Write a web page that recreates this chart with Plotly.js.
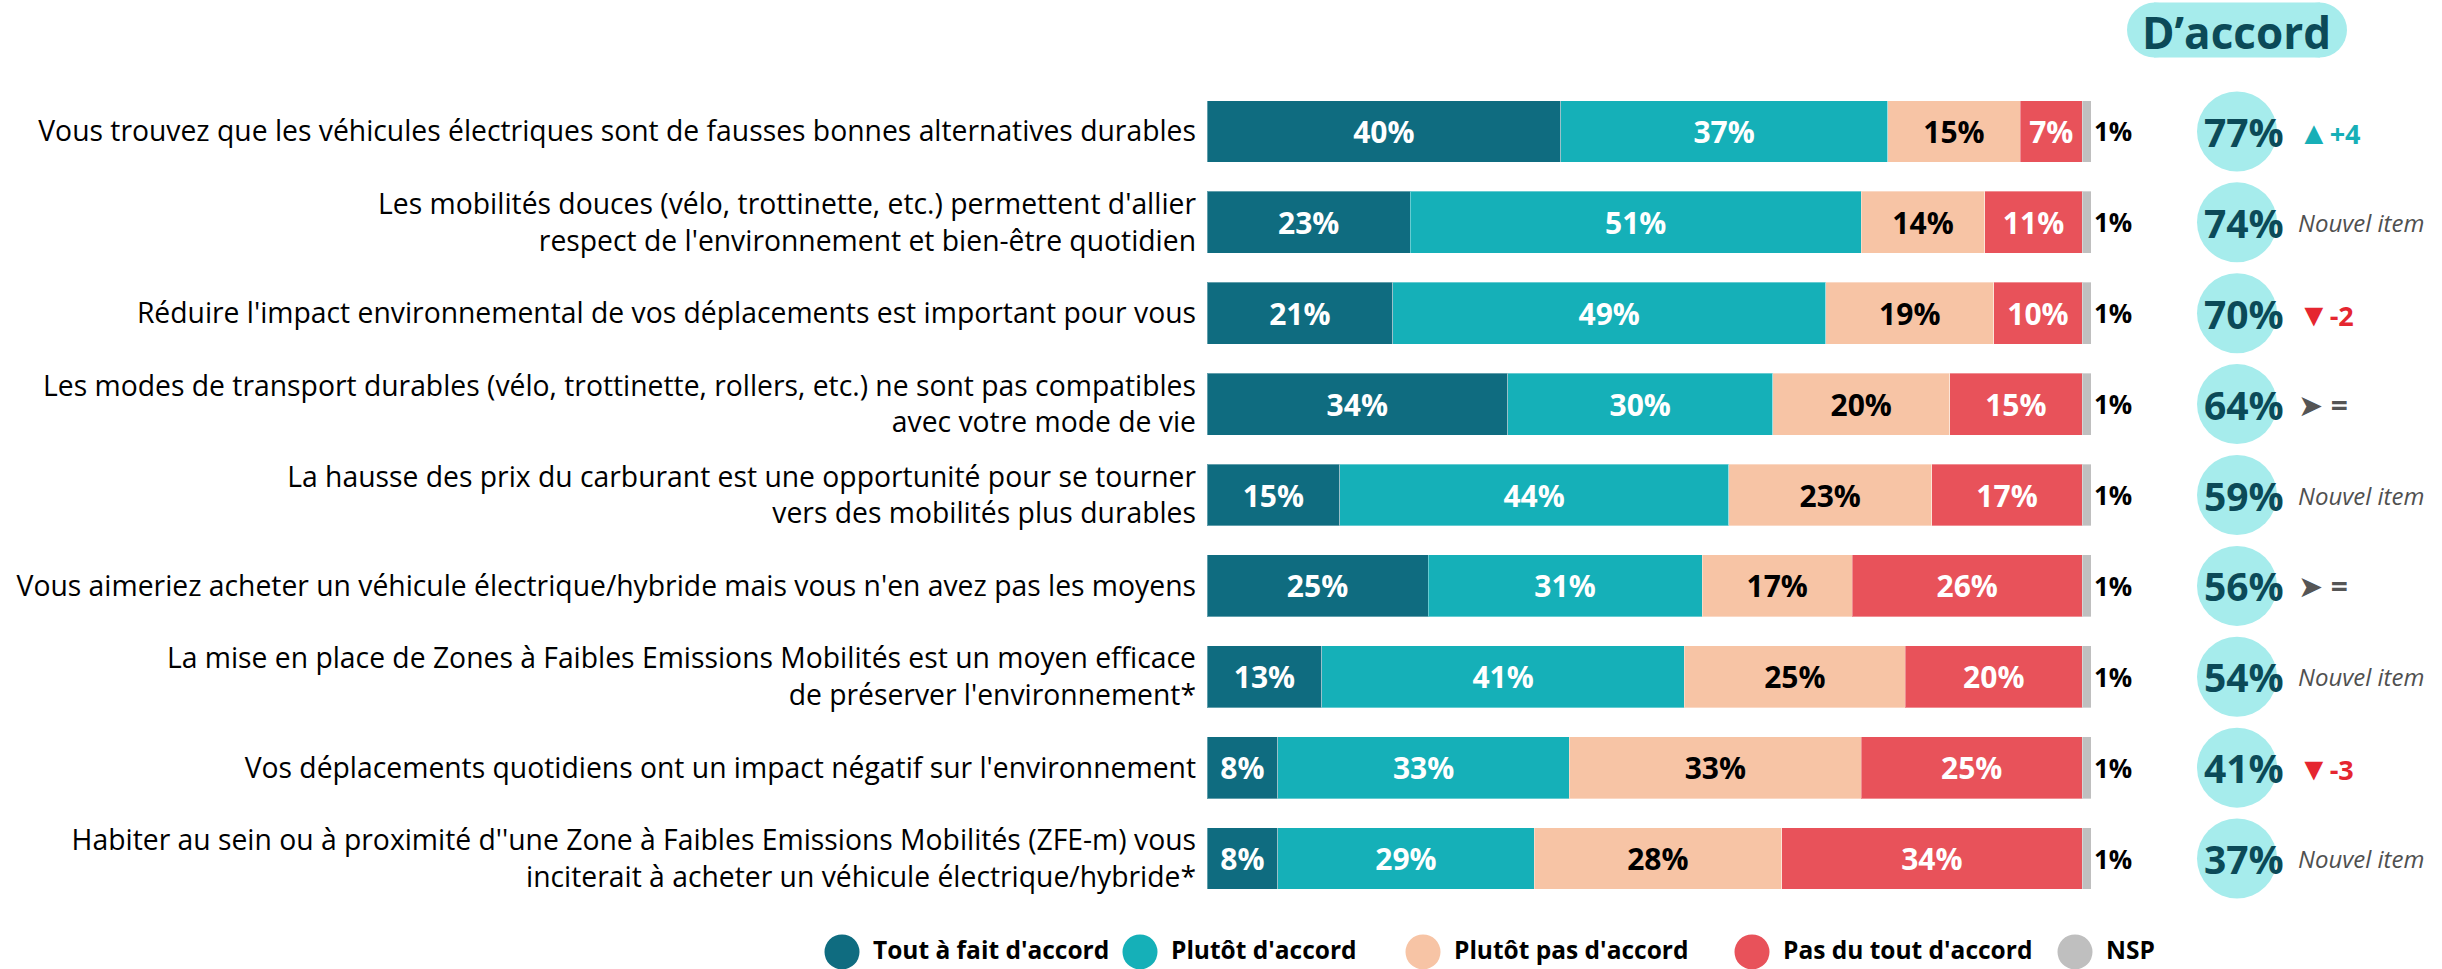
<!DOCTYPE html>
<html><head><meta charset="utf-8">
<script src="https://cdn.plot.ly/plotly-3.0.1.min.js"></script>
<style>html,body{margin:0;padding:0;background:#fff}#chart{width:2442px;height:969px}</style>
</head><body><div id="chart"></div>
<script>
const items = [
  "Vous trouvez que les véhicules électriques sont de fausses bonnes alternatives durables",
  "Les mobilités douces (vélo, trottinette, etc.) permettent d'allier<br>respect de l'environnement et bien-être quotidien",
  "Réduire l'impact environnemental de vos déplacements est important pour vous",
  "Les modes de transport durables (vélo, trottinette, rollers, etc.) ne sont pas compatibles<br>avec votre mode de vie",
  "La hausse des prix du carburant est une opportunité pour se tourner<br>vers des mobilités plus durables",
  "Vous aimeriez acheter un véhicule électrique/hybride mais vous n'en avez pas les moyens",
  "La mise en place de Zones à Faibles Emissions Mobilités est un moyen efficace<br>de préserver l'environnement*",
  "Vos déplacements quotidiens ont un impact négatif sur l'environnement",
  "Habiter au sein ou à proximité d''une Zone à Faibles Emissions Mobilités (ZFE-m) vous<br>inciterait à acheter un véhicule électrique/hybride*"
];
const seriesNames = ["Tout à fait d'accord", "Plutôt d'accord", "Plutôt pas d'accord", "Pas du tout d'accord", "NSP"];
const toutAFait = [40, 23, 21, 34, 15, 25, 13, 8, 8];
const plutot    = [37, 51, 49, 30, 44, 31, 41, 33, 29];
const plutotPas = [15, 14, 19, 20, 23, 17, 25, 33, 28];
const pasDuTout = [7, 11, 10, 15, 17, 26, 20, 25, 34];
const nsp       = [1, 1, 1, 1, 1, 1, 1, 1, 1];
const agreeTotal = [77, 74, 70, 64, 59, 56, 54, 41, 37];
const evolution  = ["+4", "new", "-2", "=", "new", "=", "new", "-3", "new"];
const headerText = "D’accord";
const newItemText = "Nouvel item";

const colors = ["#0f6c80", "#15b0b8", "#f7c4a5", "#e8525a", "#bfbfbf"];
const textColors = ["#ffffff", "#ffffff", "#000000", "#ffffff", "#000000"];
const series = [toutAFait, plutot, plutotPas, pasDuTout, nsp];
const FONT = "'Open Sans', 'Noto Sans', sans-serif";

const traces = series.map((vals, k) => ({
  type: "bar", orientation: "h", x: vals, y: items, name: seriesNames[k],
  marker: {color: colors[k], line: {width: 1, color: "rgba(255,255,255,0.35)"}},
  texttemplate: "%{x}%",
  textposition: k === 4 ? "outside" : "inside",
  insidetextanchor: "middle", textangle: 0, constraintext: "none",
  cliponaxis: false,
  textfont: {family: FONT, size: k === 4 ? 26 : 30, color: textColors[k], weight: 700},
  showlegend: false, hoverinfo: "skip"
}));

const plotL = 1207, plotR = 2091, plotW = plotR - plotL;
const px = v => (v - plotL) / plotW;
const plotTop = 85.5, plotBot = 904.5, plotH = plotBot - plotTop;
const py = v => (plotBot - v) / plotH;

const shapes = [];
const annotations = [];
// header pill
const pillC = "#a6ecec";
shapes.push({type: "rect", xref: "paper", yref: "paper", x0: px(2154), x1: px(2320), y0: py(57), y1: py(2), fillcolor: pillC, line: {width: 0}, layer: "below"});
shapes.push({type: "circle", xref: "paper", yref: "paper", x0: px(2127), x1: px(2182), y0: py(57), y1: py(2), fillcolor: pillC, line: {width: 0}, layer: "below"});
shapes.push({type: "circle", xref: "paper", yref: "paper", x0: px(2292), x1: px(2347), y0: py(57), y1: py(2), fillcolor: pillC, line: {width: 0}, layer: "below"});
annotations.push({xref: "paper", yref: "paper", x: px(2236), y: py(31), text: "<b>" + headerText + "</b>", showarrow: false,
  font: {family: FONT, size: 44, color: "#0b4a58"}, xanchor: "center", yanchor: "middle"});

items.forEach((it, i) => {
  shapes.push({type: "circle", xref: "paper", yref: "y", x0: px(2197), x1: px(2277), y0: i - 0.44, y1: i + 0.44,
    fillcolor: pillC, line: {width: 0}, layer: "below"});
  annotations.push({xref: "paper", yref: "y", x: px(2244), y: i, text: "<b>" + agreeTotal[i] + "%</b>", showarrow: false,
    font: {family: FONT, size: 39, color: "#0b4a58"}, xanchor: "center", yanchor: "middle"});
  const ev = evolution[i];
  let txt, col, size = 27;
  if (ev === "new") { txt = "<i>" + newItemText + "</i>"; col = "#505050"; size = 24; }
  else if (ev === "=") { txt = "<span style='font-size:30px'>➤</span> <b>=</b>"; col = "#555555"; size = 30; }
  else if (ev[0] === "+") { txt = "<span style='font-size:32px'>▲</span><b>" + ev + "</b>"; col = "#17afb7"; }
  else { txt = "<span style='font-size:32px'>▼</span><b>" + ev + "</b>"; col = "#e52630"; }
  annotations.push({xref: "paper", yref: "y", x: px(2296), y: i, text: txt, showarrow: false,
    font: {family: FONT, size: size, color: col}, xanchor: "left", yanchor: "middle"});
});

// legend (drawn manually)
const legendCircleX = [842, 1140, 1423, 1752, 2075];
seriesNames.forEach((n, k) => {
  const cx = legendCircleX[k];
  shapes.push({type: "circle", xref: "paper", yref: "paper", x0: px(cx - 17.5), x1: px(cx + 17.5), y0: py(970), y1: py(935),
    fillcolor: colors[k], line: {width: 0}});
  annotations.push({xref: "paper", yref: "paper", x: px(cx + 29), y: py(950), text: "<b>" + n + "</b>", showarrow: false,
    font: {family: FONT, size: 24.5, color: "#000000"}, xanchor: "left", yanchor: "middle"});
});

const layout = {
  width: 2442, height: 969,
  margin: {l: plotL, r: 2442 - plotR, t: plotTop, b: 969 - plotBot, pad: 0},
  paper_bgcolor: "#ffffff", plot_bgcolor: "#ffffff",
  barmode: "stack", bargap: 0.32,
  font: {family: FONT, color: "#000000"},
  xaxis: {range: [0, 100], visible: false, fixedrange: true},
  yaxis: {type: "category", range: [8.5, -0.5], showgrid: false, zeroline: false, showline: false,
    ticks: "", ticklabelstandoff: 10, tickfont: {family: FONT, size: 28.3, color: "#000000"}, fixedrange: true},
  showlegend: false,
  shapes: shapes, annotations: annotations
};
Plotly.newPlot("chart", traces, layout, {displayModeBar: false, staticPlot: true});
</script></body></html>
